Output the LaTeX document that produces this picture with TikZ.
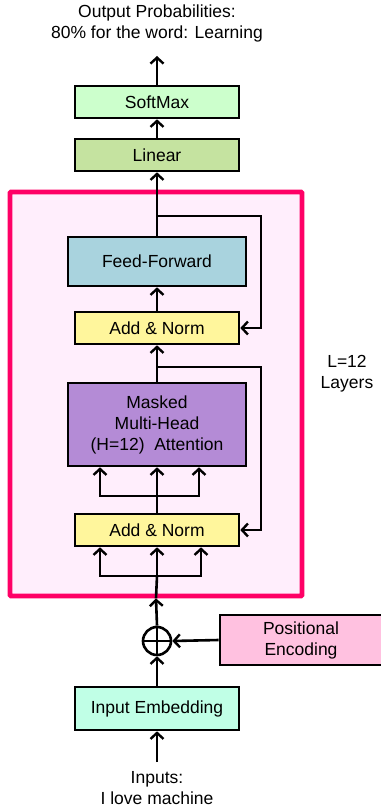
\documentclass[tikz,border=0pt]{standalone}
\usepackage{fontspec}
\setmainfont{Liberation Sans}
\usepackage{xcolor}
\usetikzlibrary{arrows.meta}

\definecolor{layerred}{RGB}{255,0,102}
\definecolor{layerfill}{RGB}{255,238,252}
\definecolor{smfill}{RGB}{204,255,204}
\definecolor{linfill}{RGB}{197,227,160}
\definecolor{fffill}{RGB}{169,211,222}
\definecolor{anfill}{RGB}{255,246,156}
\definecolor{mhafill}{RGB}{180,139,214}
\definecolor{pefill}{RGB}{255,193,224}
\definecolor{embfill}{RGB}{192,255,230}

\begin{document}
\begin{tikzpicture}[x=1pt,y=1pt,yscale=-1,xscale=1,
  blk/.style={draw,line width=2.6pt,inner sep=0pt,align=center,font=\fontsize{17.5}{21}\selectfont},
  txt/.style={inner sep=0pt,align=center,font=\fontsize{17.5}{21}\selectfont},
  wire/.style={line width=2.6pt,-{Straight Barb[length=6pt,width=13pt,line width=2.4pt]}}]
\useasboundingbox (0,0) rectangle (380,810);

%Layer block
\node[draw=layerred,fill=layerfill,line width=4.8pt,rounded corners=1pt,minimum width=292,minimum height=404] (layer) at (156,394) {};

% Text Node
\node[txt] (outtext) at (157,23.5) {Output Probabilities:\\80\% for the word: Learning};
\node[txt] (layers) at (347,374) {L=12\\Layers};
\node[txt] (intext) at (157,788.5) {Inputs:\\I love machine};

% Boxes
\node[blk,fill=smfill,minimum width=164,minimum height=32] (softmax) at (157,102) {SoftMax};
\node[blk,fill=linfill,minimum width=164,minimum height=32] (linear) at (157,155) {Linear};
\node[blk,fill=fffill,minimum width=178,minimum height=49] (ff) at (157,261.5) {Feed-Forward};
\node[blk,fill=anfill,minimum width=164,minimum height=32] (addnorm2) at (157,328) {Add \& Norm};
\node[blk,fill=mhafill,minimum width=178,minimum height=83] (mha) at (157,424.5) {Masked\\Multi-Head\\(H=12)\ \ Attention};
\node[blk,fill=anfill,minimum width=164,minimum height=32] (addnorm1) at (157,530) {Add \& Norm};
\node[blk,fill=pefill,minimum width=162,minimum height=50] (posenc) at (301,640) {Positional\\Encoding};
\node[blk,fill=embfill,minimum width=164,minimum height=43] (embed) at (157,708.5) {Input Embedding};
\node[draw,circle,line width=2.6pt,minimum size=28,inner sep=0pt,
  path picture={\draw[line width=2.4pt] (path picture bounding box.north) -- (path picture bounding box.south)
    (path picture bounding box.west) -- (path picture bounding box.east);}] (plus) at (157,641) {};

% Free ends and forks
\coordinate (outtip) at (157,56);
\coordinate (intip) at (157,762);
\coordinate (skip2) at (157,216);
\coordinate (skip1) at (157,367);
\coordinate (fork1) at (157,496);
\coordinate (fork0) at (157,576);

%Straight Lines
\draw[wire] (softmax.north) -- (outtip);
\draw[wire] (linear.north) -- (softmax.south);
\draw[wire] (ff.north) -- (linear.south);
\draw[wire] (skip2) -- ++(104,0) |- (addnorm2.east);
\draw[wire] (addnorm2.north) -- (ff.south);
\draw[wire] (mha.north) -- (addnorm2.south);
\draw[wire] (skip1) -- ++(104,0) |- (addnorm1.east);
\draw[wire] (addnorm1.north) -- (mha.south);
\draw[wire] (fork1) -| ([xshift=-57]mha.south);
\draw[wire] (fork1) -| ([xshift=42]mha.south);
\draw[line width=2.6pt] (layer.south) -- (fork0);
\draw[wire] (fork0) -- (addnorm1.south);
\draw[wire] (fork0) -| ([xshift=-57]addnorm1.south);
\draw[wire] (fork0) -| ([xshift=44]addnorm1.south);
\draw[wire] (plus.north) -- (layer.south);
\draw[wire] (posenc.west) -- (plus.east);
\draw[wire] (embed.north) -- (plus.south);
\draw[wire] (intip) -- (embed.south);

\end{tikzpicture}
\end{document}
